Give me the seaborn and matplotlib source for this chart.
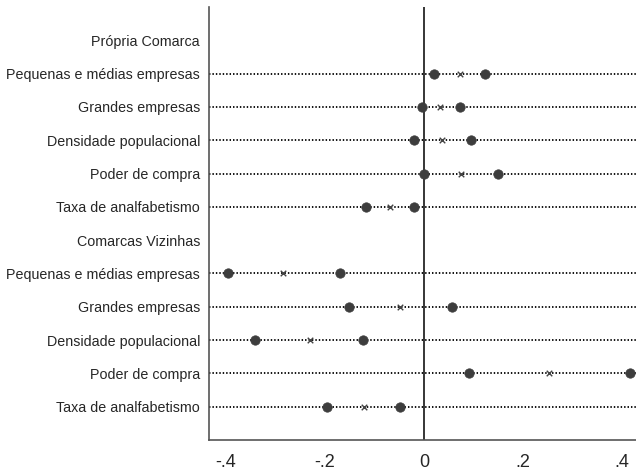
import numpy as np
import pandas as pd
import matplotlib
matplotlib.use("Agg")
import matplotlib.pyplot as plt
import seaborn as sns

# Row labels (top to bottom); group headers carry no estimates
labels = [
    "Própria Comarca",
    "Pequenas e médias empresas",
    "Grandes empresas",
    "Densidade populacional",
    "Poder de compra",
    "Taxa de analfabetismo",
    "Comarcas Vizinhas",
    "Pequenas e médias empresas",
    "Grandes empresas",
    "Densidade populacional",
    "Poder de compra",
    "Taxa de analfabetismo",
]
is_header = [True, False, False, False, False, False,
             True, False, False, False, False, False]
lower = [np.nan, 0.020, -0.004, -0.021, 0.001, -0.118,
         np.nan, -0.396, -0.151, -0.341, 0.091, -0.196]
estimate = [np.nan, 0.072, 0.033, 0.037, 0.075, -0.069,
            np.nan, -0.284, -0.048, -0.231, 0.252, -0.122]
upper = [np.nan, 0.124, 0.072, 0.094, 0.149, -0.020,
         np.nan, -0.170, 0.056, -0.124, 0.415, -0.048]
xticks = [-0.4, -0.2, 0.0, 0.2, 0.4]
xticklabels = ["-.4", "-.2", "0", ".2", ".4"]

sns.set_style("white")
plt.rcParams["font.family"] = ["Liberation Sans", "DejaVu Sans"]

df = pd.DataFrame({
    "row": np.arange(1, len(labels) + 1),
    "label": labels,
    "header": is_header,
    "lower": lower,
    "estimate": estimate,
    "upper": upper,
})
coef = df[~df["header"]]
bounds = pd.concat([
    coef[["row", "lower"]].rename(columns={"lower": "value"}),
    coef[["row", "upper"]].rename(columns={"upper": "value"}),
])

fig = plt.figure(figsize=(6.36, 4.72), dpi=100)
ax = fig.add_axes([209 / 636, 32 / 472, 427 / 636, 433 / 472])

# dotted guide line for every coefficient row
for r in coef["row"]:
    ax.axhline(r, color="black", lw=1.3, linestyle=(0, (0.8, 1.1)), zorder=1)

ax.axvline(0, color="black", lw=1.1, zorder=2)

sns.scatterplot(data=bounds, x="value", y="row", ax=ax, s=46,
                color="#3d3d3d", edgecolor="#3d3d3d", linewidth=0.5,
                zorder=3, legend=False)
sns.scatterplot(data=coef, x="estimate", y="row", ax=ax, marker="x", s=16,
                color="#444444", linewidth=1.0, zorder=3, legend=False)

ax.set_xlim(-0.434, 0.428)
ax.set_ylim(13, 0)
ax.set_yticks(df["row"])
ax.set_yticklabels(df["label"], fontsize=10.3)
ax.set_xticks(xticks)
ax.set_xticklabels(xticklabels, fontsize=13)
ax.set_xlabel("")
ax.set_ylabel("")

for side in ["top", "right"]:
    ax.spines[side].set_visible(False)
for side in ["left", "bottom"]:
    ax.spines[side].set_color("#555555")
    ax.spines[side].set_linewidth(1.2)

ax.tick_params(axis="x", length=5, width=1.0, color="#555555", pad=5)
ax.tick_params(axis="y", length=0, pad=6.5)

fig.savefig("out.png", dpi=100)
